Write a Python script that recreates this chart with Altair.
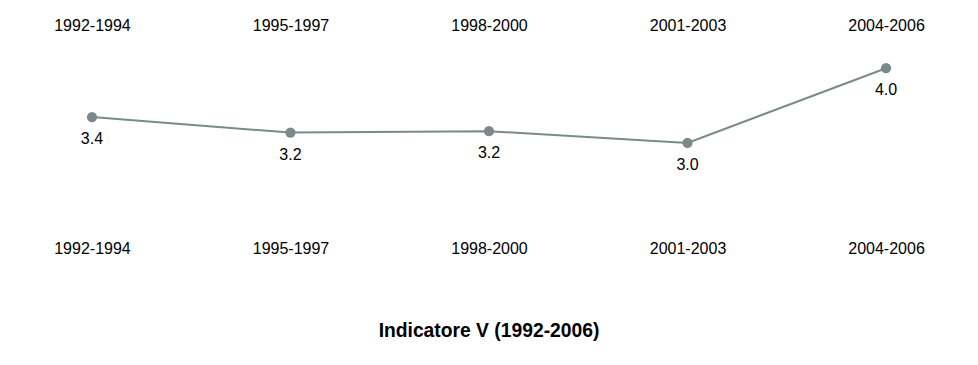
import altair as alt
import pandas as pd

periods = ["1992-1994", "1995-1997", "1998-2000", "2001-2003", "2004-2006"]
values = [3.35, 3.14, 3.16, 3.00, 4.01]
labels = ["3.4", "3.2", "3.2", "3.0", "4.0"]

df = pd.DataFrame({"period": periods, "value": values, "label": labels})

FONT = "Liberation Sans"
C = "#7a8a8a"

xscale = alt.Scale(type="point", domain=periods, padding=0.423)
yscale = alt.Scale(domain=[1.797, 4.378], zero=False, nice=False)

def xaxis(orient):
    return alt.Axis(orient=orient, title=None, labelAngle=0, domain=False, ticks=False,
                    grid=False, labelPadding=8, labelFontSize=16, labelColor="black",
                    labelFont=FONT)

base = alt.Chart(df)

line = base.mark_line(color=C, strokeWidth=2).encode(
    x=alt.X("period:N", scale=xscale, sort=periods, axis=xaxis("top")),
    y=alt.Y("value:Q", scale=yscale, axis=None),
)
points = base.mark_circle(size=105, opacity=1, color=C).encode(
    x=alt.X("period:N", scale=xscale, sort=periods, axis=None),
    y=alt.Y("value:Q", scale=yscale, axis=None),
)
text = base.mark_text(dy=22, fontSize=16, font=FONT, color="black", baseline="middle").encode(
    x=alt.X("period:N", scale=xscale, sort=periods, axis=xaxis("bottom")),
    y=alt.Y("value:Q", scale=yscale, axis=None),
    text="label:N",
)

chart = alt.layer(line, points, text).resolve_axis(x="independent").properties(
    width=962,
    height=191,
    title=alt.TitleParams("Indicatore V (1992-2006)", orient="bottom", fontSize=19.3,
                          fontWeight="bold", font=FONT, color="black", offset=66,
                          anchor="middle"),
    autosize=alt.AutoSizeParams(type="none"),
    padding={"left": 0, "top": 33, "right": 0, "bottom": 125},
).configure_view(stroke=None)

chart.save("out.html", embed_options={"renderer": "svg", "actions": False})
